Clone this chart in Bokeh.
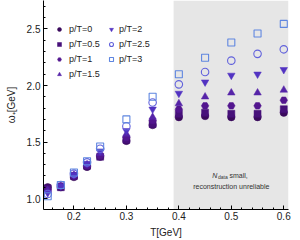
from bokeh.plotting import figure
from bokeh.models import (Range1d, BoxAnnotation, Legend, LegendItem, Label,
                          SingleIntervalTicker, PrintfTickFormatter)
from bokeh.embed import file_html
from bokeh.resources import INLINE

T = [0.15, 0.175, 0.2, 0.225, 0.25, 0.3, 0.35, 0.4, 0.45, 0.5, 0.55, 0.6]

w_p0 = [1.10, 1.10, 1.19, 1.28, 1.37, 1.51, 1.65, 1.72, 1.73, 1.72, 1.72, 1.76]
w_p05 = [1.09, 1.10, 1.20, 1.29, 1.37, 1.52, 1.66, 1.75, 1.76, 1.75, 1.75, 1.79]
w_p1 = [1.08, 1.11, 1.20, 1.29, 1.38, 1.54, 1.69, 1.79, 1.82, 1.82, 1.82, 1.87]
w_p15 = [1.07, 1.11, 1.21, 1.30, 1.40, 1.57, 1.72, 1.84, 1.90, 1.935, 1.935, 1.96]
w_p2 = [1.05, 1.11, 1.21, 1.31, 1.42, 1.60, 1.79, 1.93, 2.03, 2.09, 2.10, 2.14]
w_p25 = [1.04, 1.12, 1.22, 1.32, 1.44, 1.64, 1.85, 2.01, 2.12, 2.22, 2.28, 2.32]
w_p3 = [1.02, 1.12, 1.23, 1.33, 1.46, 1.70, 1.90, 2.10, 2.245, 2.38, 2.46, 2.545]

labels = ["p/T=0", "p/T=0.5", "p/T=1", "p/T=1.5", "p/T=2", "p/T=2.5", "p/T=3"]
series = [w_p0, w_p05, w_p1, w_p15, w_p2, w_p25, w_p3]
markers = ["circle", "square", "hex", "triangle", "inverted_triangle", "circle", "square"]
colors = ["#3a0a5c", "#47117a", "#53168f", "#5624a8", "#5233c2", "#6262dc", "#5f86e0"]
hollow = [False, False, False, False, False, True, True]
sizes = [7.5, 7, 7.5, 7.5, 7.5, 7.5, 7]

unreliable_from = 0.39

FONT = "Liberation Sans"

p = figure(frame_width=245, frame_height=209, output_backend="svg",
           toolbar_location=None,
           x_range=Range1d(0.142, 0.609), y_range=Range1d(0.903, 2.752),
           min_border_left=43, min_border_right=12, min_border_top=0,
           min_border_bottom=31)
p.outline_line_color = None
p.xgrid.visible = False
p.ygrid.visible = False

p.add_layout(BoxAnnotation(left=unreliable_from, fill_color="#e6e6e6",
                           fill_alpha=1.0, line_color=None, level="underlay"))

renderers = []
for ys, m, c, h, s in zip(series, markers, colors, hollow, sizes):
    if h:
        r = p.scatter(T, ys, marker=m, size=s, fill_color=None, line_color=c,
                      line_width=1.1)
    else:
        r = p.scatter(T, ys, marker=m, size=s, fill_color=c, line_color=c,
                      line_width=0.5)
    renderers.append(r)

def make_legend(idx, loc, standoff):
    lg = Legend(items=[LegendItem(label=labels[i], renderers=[renderers[i]]) for i in idx],
                location=loc, background_fill_alpha=0, border_line_color=None,
                padding=0, margin=0, spacing=5, glyph_width=10, glyph_height=10,
                label_height=10, label_standoff=standoff, label_text_font=FONT,
                label_text_font_size="9px", label_text_color="#222222")
    return lg

p.add_layout(make_legend([0, 1, 2, 3], (11, 130), 5))
p.add_layout(make_legend([4, 5, 6], (63, 145), 3))

for ax in (p.xaxis[0], p.yaxis[0]):
    ax.axis_line_color = "black"
    ax.major_tick_in = 4
    ax.major_tick_out = 0
    ax.minor_tick_in = 2
    ax.minor_tick_out = 0
    ax.major_tick_line_color = "black"
    ax.minor_tick_line_color = "black"
    ax.major_label_text_font = FONT
    ax.major_label_text_font_size = "10px"
    ax.major_label_text_color = "#222222"
    ax.axis_label_text_font = FONT
    ax.axis_label_text_font_size = "10px"
    ax.axis_label_text_font_style = "normal"
    ax.axis_label_text_color = "#222222"
    ax.major_label_standoff = 3
    ax.formatter = PrintfTickFormatter(format="%.1f")

p.xaxis[0].ticker = SingleIntervalTicker(interval=0.1, num_minor_ticks=5)
p.yaxis[0].ticker = SingleIntervalTicker(interval=0.5, num_minor_ticks=5)
p.yaxis[0].axis_label = "ω₊[GeV]"
p.yaxis[0].axis_label_standoff = 7
p.xaxis[0].axis_label = "T[GeV]"
p.xaxis[0].major_label_standoff = 2
p.xaxis[0].axis_label_standoff = 4

note_kw = dict(text_font=FONT, text_color="#333333", text_baseline="middle")
p.add_layout(Label(x=0.4635, y=1.204, text="N", text_font_style="italic",
                   text_font_size="7px", **note_kw))
p.add_layout(Label(x=0.4745, y=1.19, text="data", text_font_size="5px", **note_kw))
p.add_layout(Label(x=0.4965, y=1.204, text="small,", text_font_size="7px", **note_kw))
p.add_layout(Label(x=0.5, y=1.106, text="reconstruction unreliable",
                   text_align="center", text_font_size="7px", **note_kw))

open("out.html", "w").write(file_html(p, INLINE))
